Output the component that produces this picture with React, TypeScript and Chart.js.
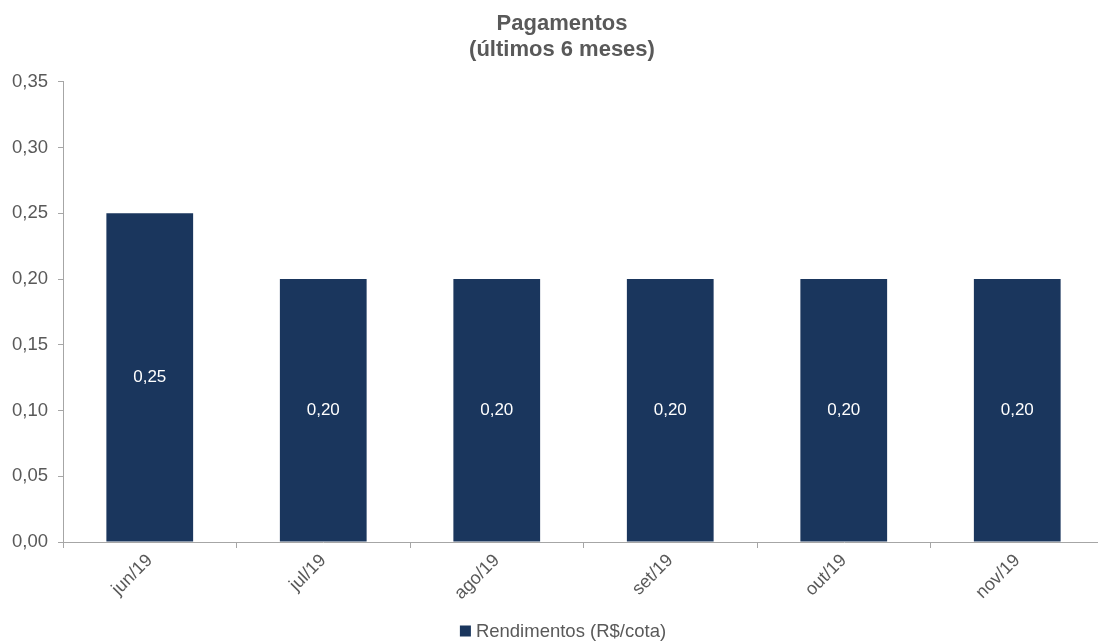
import React, { useEffect, useRef } from "react";
import { Chart, registerables } from "chart.js";

Chart.register(...registerables);

const categories = ["jun/19", "jul/19", "ago/19", "set/19", "out/19", "nov/19"];
const rendimentos = [0.25, 0.2, 0.2, 0.2, 0.2, 0.2];
const seriesLabel = "Rendimentos (R$/cota)";
const titleLines = ["Pagamentos", "(últimos 6 meses)"];

const FONT = "'Liberation Sans', Arial, sans-serif";
const BAR = "#1a365d";
const TEXT = "#595959";
const TITLE_SIZE = 22;
const TITLE_LH = 1.18;
const fmt = (v: number) => v.toFixed(2).replace(".", ",");

const valueLabels = {
  id: "valueLabels",
  afterDatasetsDraw(chart: any) {
    const ctx = chart.ctx;
    const meta = chart.getDatasetMeta(0);
    ctx.save();
    ctx.fillStyle = "#ffffff";
    ctx.font = `17px ${FONT}`;
    ctx.textAlign = "center";
    ctx.textBaseline = "middle";
    meta.data.forEach((bar: any, i: number) => {
      const y = (bar.y + bar.base) / 2;
      ctx.fillText(fmt(rendimentos[i]), bar.x, y);
    });
    ctx.restore();
  },
};

const titleAndLegend = {
  id: "titleAndLegend",
  afterDraw(chart: any) {
    const ctx = chart.ctx;
    ctx.save();
    // title
    const tb = chart.titleBlock;
    const lh = TITLE_SIZE * TITLE_LH;
    const cx = 562;
    ctx.fillStyle = TEXT;
    ctx.font = `bold ${TITLE_SIZE}px ${FONT}`;
    ctx.textAlign = "center";
    ctx.textBaseline = "middle";
    titleLines.forEach((t, i) => {
      ctx.fillText(t, cx, tb.top + 2 + lh * (i + 0.5));
    });
    // legend
    const ly = chart.height - 10;
    ctx.font = `18.5px ${FONT}`;
    const tw = ctx.measureText(seriesLabel).width;
    const box = 11;
    const gap = 5;
    const total = box + gap + tw;
    const lx = 563 - total / 2;
    ctx.fillStyle = BAR;
    ctx.fillRect(lx, ly - box / 2, box, box);
    ctx.fillStyle = TEXT;
    ctx.textAlign = "left";
    ctx.fillText(seriesLabel, lx + box + gap, ly + 1);
    ctx.restore();
  },
};

export default function App() {
  const ref = useRef<HTMLCanvasElement>(null);
  useEffect(() => {
    document.body.style.margin = "0";
    document.body.style.overflow = "hidden";
    const chart = new Chart(ref.current!, {
      type: "bar",
      data: {
        labels: categories,
        datasets: [
          {
            label: seriesLabel,
            data: rendimentos,
            backgroundColor: BAR,
            borderColor: BAR,
            borderWidth: 0,
            barPercentage: 0.5,
            categoryPercentage: 1,
          },
        ],
      },
      options: {
        animation: false,
        responsive: false,
        layout: { padding: { left: 2, right: 0, top: 9, bottom: 0 } },
        plugins: {
          title: {
            display: true,
            text: titleLines,
            color: "rgba(0,0,0,0)",
            font: { family: FONT, size: TITLE_SIZE, weight: "bold", lineHeight: TITLE_LH },
            padding: { top: 2, bottom: 19 },
          },
          legend: { display: false },
          tooltip: { enabled: false },
        },
        scales: {
          x: {
            afterFit: (scale: any) => {
              scale.height = 99;
            },
            grid: {
              display: true,
              drawOnChartArea: false,
              offset: true,
              color: "#a6a6a6",
              tickLength: 6,
            },
            border: { display: true, color: "#a6a6a6", width: 1 },
            ticks: {
              color: TEXT,
              font: { family: FONT, size: 18 },
              minRotation: 45,
              maxRotation: 45,
              padding: 2,
            },
          },
          y: {
            min: 0,
            max: 0.35,
            grid: {
              display: true,
              drawOnChartArea: false,
              color: "#a6a6a6",
              tickLength: 5,
            },
            border: { display: true, color: "#a6a6a6", width: 1 },
            ticks: {
              stepSize: 0.05,
              color: TEXT,
              font: { family: FONT, size: 18.5 },
              padding: 10,
              callback: (v: any) => fmt(Number(v)),
            },
          },
        },
      },
      plugins: [valueLabels, titleAndLegend],
    });
    return () => chart.destroy();
  }, []);
  return (
    <div style={{ width: 1104, height: 641 }}>
      <canvas ref={ref} width={1104} height={641} />
    </div>
  );
}
